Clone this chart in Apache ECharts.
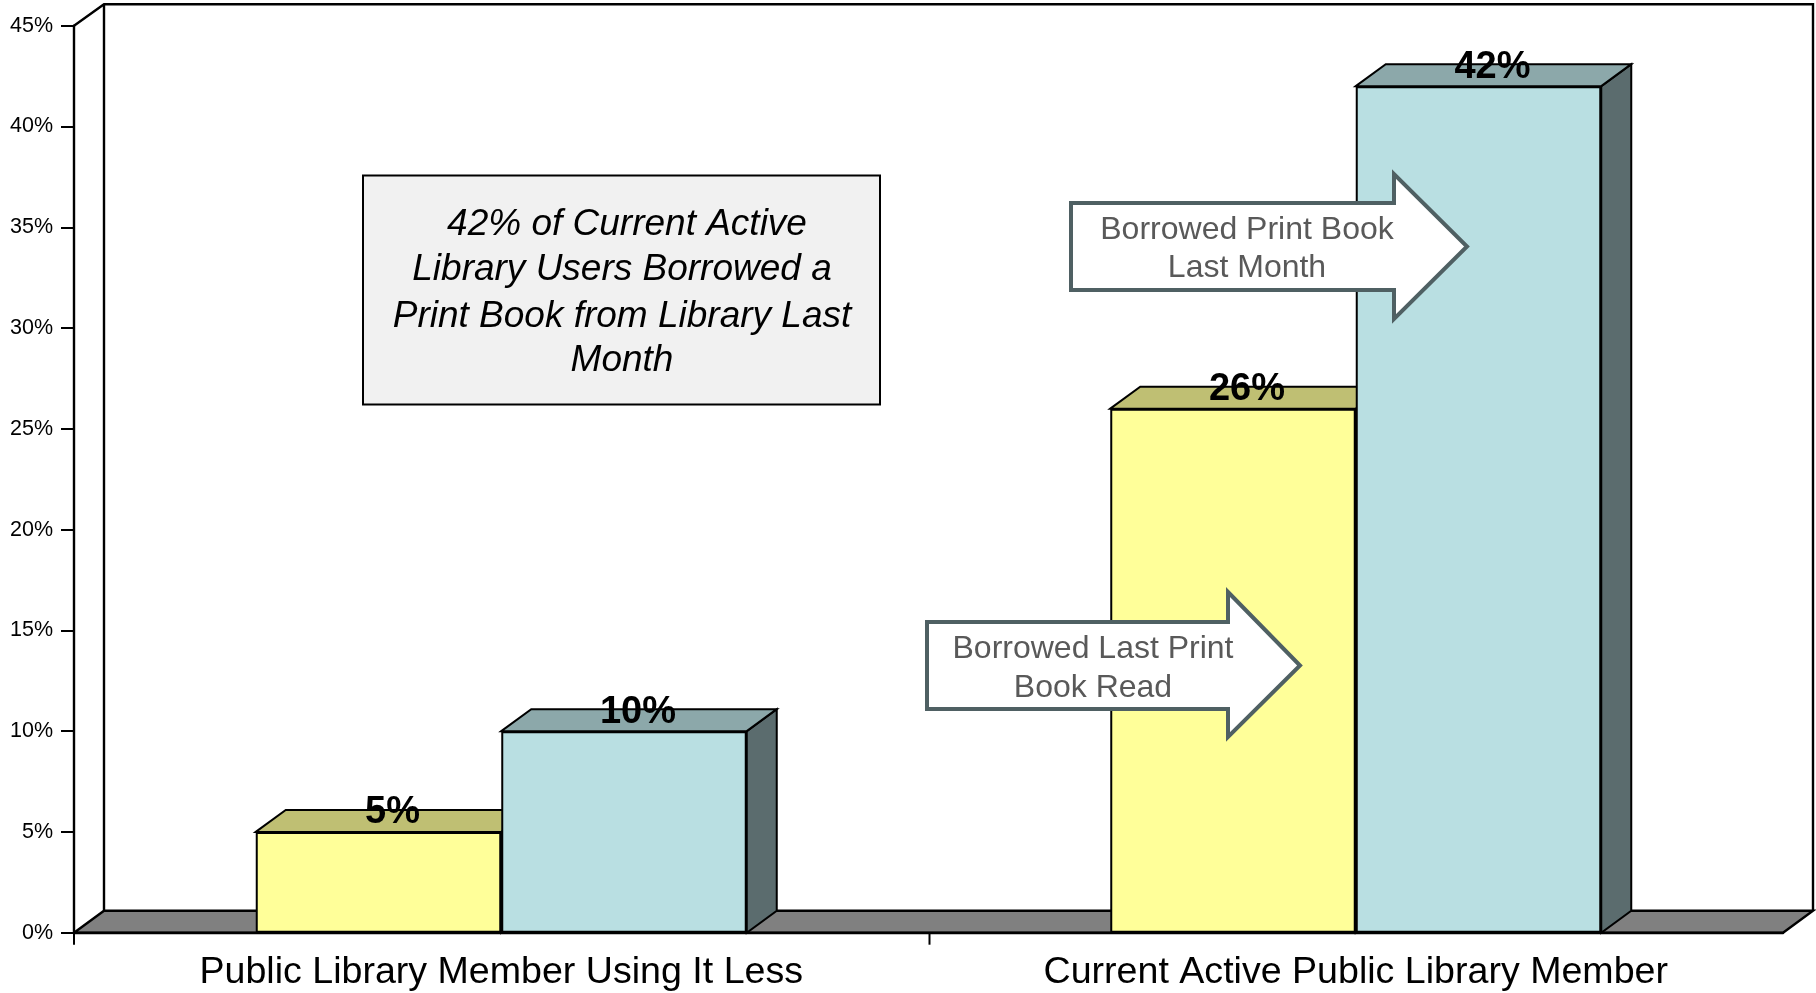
<!DOCTYPE html>
<html>
<head>
<meta charset="utf-8">
<style>html,body{margin:0;padding:0;background:#fff}#chart{width:1816px;height:993px}</style>
<script src="https://cdn.jsdelivr.net/npm/echarts@6/dist/echarts.min.js"></script>
</head>
<body>
<div id="chart"></div>
<script>
const categories = ['Public Library Member Using It Less', 'Current Active Public Library Member'];
const borrowedLastRead = [5, 26];
const borrowedLastMonth = [10, 42];
const yTicks = [0, 45, 5];

const FONT = '"Liberation Sans", Arial, sans-serif';
const BAR_W = 245.5, DX = 30, DY = 22;
const GRID = {left: 74, top: 25.7, width: 1709, height: 907};
const BOTTOM = GRID.top + GRID.height, RIGHT = GRID.left + GRID.width;
const WALL_TOP = 4.2, WALL_RIGHT = 1813, STROKE = 2;

function depthSeries(values, sign, topColor, sideColor) {
  return {
    type: 'custom', z: 1, silent: true, clip: false,
    data: values.map((v, i) => [i, v]),
    renderItem(params, api) {
      const p = api.coord([api.value(0), api.value(1)]);
      const base = api.coord([api.value(0), 0]);
      const x0 = sign < 0 ? p[0] - BAR_W : p[0];
      const x1 = x0 + BAR_W, y = p[1], yb = base[1];
      const style = {stroke: '#000', lineWidth: STROKE, lineJoin: 'miter'};
      return {type: 'group', children: [
        {type: 'polygon', shape: {points: [[x1, y], [x1 + DX, y - DY], [x1 + DX, yb - DY], [x1, yb]]},
         style: Object.assign({fill: sideColor}, style)},
        {type: 'polygon', shape: {points: [[x0, y], [x0 + DX, y - DY], [x1 + DX, y - DY], [x1, y]]},
         style: Object.assign({fill: topColor}, style)}
      ]};
    }
  };
}
function barSeries(values, color) {
  return {
    type: 'bar', z: 2, barWidth: BAR_W, barGap: 0, silent: true,
    data: values,
    itemStyle: {color: color, borderColor: '#000', borderWidth: STROKE},
    label: {show: true, position: 'top', distance: 0, offset: [14, 0],
      formatter: p => p.value + '%', fontFamily: FONT, fontWeight: 'bold', fontSize: 38, color: '#000'}
  };
}
function arrow(left, shaftTop, shaftBottom, headX, headTop, headBottom, tipX, tipY) {
  return {type: 'polygon', z: 50, silent: true,
    shape: {points: [[left, shaftTop], [headX, shaftTop], [headX, headTop], [tipX, tipY], [headX, headBottom], [headX, shaftBottom], [left, shaftBottom]]},
    style: {fill: '#fff', stroke: '#4F6063', lineWidth: 4, lineJoin: 'miter'}};
}
function note(text, x, y, fontSize, color, style) {
  return {type: 'text', z: 60, silent: true, x: x, y: y,
    style: {text: text, fontFamily: FONT, fontSize: fontSize, fill: color, fontStyle: style || 'normal',
      align: 'center', verticalAlign: 'middle'}};
}
const line = (pts, w) => ({type: 'polyline', z: 0, silent: true, shape: {points: pts},
  style: {fill: null, stroke: '#000', lineWidth: w || 2.4}});

const chart = echarts.init(document.getElementById('chart'), null, {renderer: 'canvas'});
chart.setOption({
  animation: false,
  backgroundColor: '#fff',
  grid: {left: GRID.left, top: GRID.top, width: GRID.width, height: GRID.height},
  xAxis: {
    type: 'category', data: categories,
    axisLine: {show: true, lineStyle: {color: '#000', width: 2.4}},
    axisTick: {show: false},
    axisLabel: {fontFamily: FONT, fontSize: 37.6, color: '#000', margin: 21, interval: 0}
  },
  yAxis: {
    type: 'value', min: yTicks[0], max: yTicks[1], interval: yTicks[2],
    splitLine: {show: false},
    axisLine: {show: true, lineStyle: {color: '#000', width: 2.4}},
    axisTick: {show: true, length: 13, lineStyle: {color: '#000', width: 2}},
    axisLabel: {fontFamily: FONT, fontSize: 21.5, color: '#000', margin: 21, formatter: '{value}%'}
  },
  series: [
    depthSeries(borrowedLastRead, -1, '#BFBF73', '#BFBF73'),
    depthSeries(borrowedLastMonth, 1, '#8CA8AA', '#5B6C6E'),
    barSeries(borrowedLastRead, '#FFFF99'),
    barSeries(borrowedLastMonth, '#B9DFE2')
  ],
  graphic: {elements: [
    {type: 'polygon', z: 0, silent: true,
      shape: {points: [[GRID.left, BOTTOM], [GRID.left + DX, BOTTOM - DY], [WALL_RIGHT, BOTTOM - DY], [RIGHT, BOTTOM]]},
      style: {fill: '#808080', stroke: '#000', lineWidth: 2.4}},
    line([[GRID.left, GRID.top], [GRID.left + DX, WALL_TOP], [WALL_RIGHT, WALL_TOP], [WALL_RIGHT, BOTTOM - DY]]),
    line([[GRID.left + DX, WALL_TOP], [GRID.left + DX, BOTTOM - DY]]),
    line([[GRID.left, BOTTOM], [GRID.left, BOTTOM + 12]], 2),
    line([[GRID.left + GRID.width / 2 + 1, BOTTOM], [GRID.left + GRID.width / 2 + 1, BOTTOM + 12]], 2),
    {type: 'rect', z: 50, silent: true, shape: {x: 363, y: 175.5, width: 517, height: 229},
      style: {fill: '#F1F1F1', stroke: '#000', lineWidth: 2}},
    note('42% of Current Active', 627, 224.5, 37, '#000', 'italic'),
    note('Library Users Borrowed a', 622, 269.5, 37, '#000', 'italic'),
    note('Print Book from Library Last', 622, 316.5, 37, '#000', 'italic'),
    note('Month', 622, 360.5, 37, '#000', 'italic'),
    arrow(1071, 203, 290, 1394, 174, 319, 1467, 246.5),
    note('Borrowed Print Book', 1247, 230, 32, '#595959'),
    note('Last Month', 1247, 268, 32, '#595959'),
    arrow(927, 622, 709, 1228, 592, 737, 1300, 665.5),
    note('Borrowed Last Print', 1093, 649, 32, '#595959'),
    note('Book Read', 1093, 688, 32, '#595959')
  ]}
});
</script>
</body>
</html>
